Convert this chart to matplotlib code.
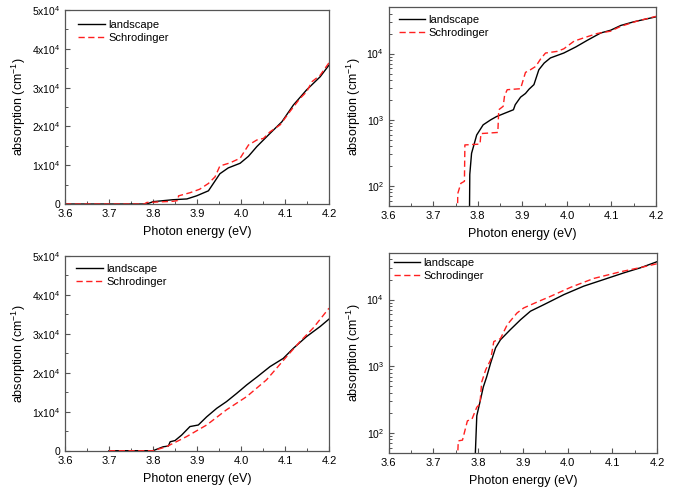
import matplotlib
matplotlib.use("Agg")
import matplotlib.pyplot as plt
from matplotlib.ticker import MultipleLocator, FuncFormatter, LogLocator, NullFormatter

plt.rcParams['font.family'] = ['Liberation Sans', 'DejaVu Sans']
plt.rcParams['mathtext.fontset'] = 'custom'
plt.rcParams['mathtext.rm'] = 'Liberation Sans'
plt.rcParams['mathtext.it'] = 'Liberation Sans:italic'
plt.rcParams['mathtext.bf'] = 'Liberation Sans:bold'
plt.rcParams['mathtext.default'] = 'regular'

# ---------------- data ----------------
labels = ["landscape", "Schrodinger"]
xlabel = "Photon energy (eV)"
ylabel = "absorption (cm$^{-1}$)"
x_ticks = [3.6, 3.7, 3.8, 3.9, 4.0, 4.1, 4.2]

# top-left (linear)
tl_land_x = [3.6, 3.786, 3.80, 3.845, 3.877, 3.899, 3.926, 3.952, 3.971, 3.998, 4.017,
             4.036, 4.066, 4.093, 4.119, 4.149, 4.18, 4.2]
tl_land_y = [0, 0, 600, 1100, 1300, 2100, 3400, 7800, 9300, 10500, 12300,
             14800, 18200, 21200, 25500, 29400, 32800, 35800]
tl_schr_x = [3.6, 3.78, 3.786, 3.846, 3.857, 3.858, 3.884, 3.906, 3.926, 3.941, 3.952,
             3.975, 3.998, 4.017, 4.036, 4.051, 4.066, 4.089, 4.111, 4.134, 4.149,
             4.161, 4.18, 4.2]
tl_schr_y = [0, 0, 400, 700, 900, 2100, 2900, 3800, 5300, 7000, 9800,
             10600, 11800, 15200, 16500, 16900, 18600, 20400, 23800, 27200, 28900,
             31500, 33200, 36400]

# top-right (log)
tr_land_x = [3.781, 3.782, 3.786, 3.7975, 3.812, 3.829, 3.842, 3.862, 3.88, 3.884,
             3.896, 3.907, 3.915, 3.926, 3.937, 3.949, 3.963, 3.993, 4.02, 4.046,
             4.076, 4.098, 4.121, 4.15, 4.2]
tr_land_y = [20, 150, 312, 590, 840, 1000, 1120, 1270, 1420, 1690,
             2200, 2500, 2900, 3400, 5700, 7200, 8600, 10200, 12600, 15900,
             20500, 22500, 26600, 30200, 35900]
tr_schr_x = [3.754, 3.755, 3.762, 3.770, 3.771, 3.805, 3.807, 3.845, 3.847, 3.857,
             3.860, 3.866, 3.896, 3.907, 3.918, 3.930, 3.941, 3.952, 3.978, 3.993,
             4.016, 4.038, 4.068, 4.098, 4.121, 4.158, 4.2]
tr_schr_y = [20, 77, 110, 118, 418, 430, 620, 645, 1420, 1600,
             2300, 2850, 2950, 5200, 5700, 6400, 8300, 10200, 10800, 11800,
             15400, 17300, 20100, 21800, 25800, 31000, 36500]

# bottom-left (linear)
bl_land_x = [3.7, 3.80, 3.823, 3.835, 3.839, 3.85, 3.865, 3.884, 3.903, 3.922, 3.945,
             3.967, 3.99, 4.013, 4.036, 4.066, 4.096, 4.119, 4.149, 4.18, 4.2]
bl_land_y = [0, 0, 1000, 1200, 2300, 2600, 4000, 6200, 6600, 8700, 10900,
             12600, 14700, 16900, 18900, 21600, 23700, 26300, 29300, 31900, 33800]
bl_schr_x = [3.7, 3.80, 3.83, 3.876, 3.922, 3.967, 4.013, 4.058, 4.104, 4.134, 4.164, 4.2]
bl_schr_y = [0, 0, 1000, 3600, 6600, 10500, 13900, 18200, 24200, 28000, 31500, 36600]

# bottom-right (log)
br_land_x = [3.7915, 3.797, 3.804, 3.8115, 3.819, 3.828, 3.839, 3.85, 3.872, 3.895,
             3.917, 3.947, 3.992, 4.036, 4.081, 4.126, 4.163, 4.2]
br_land_y = [20, 181, 289, 487, 690, 1120, 1890, 2500, 3540, 5000,
             6700, 8400, 11900, 15900, 20000, 25200, 30000, 37000]
br_schr_x = [3.752, 3.7556, 3.765, 3.776, 3.786, 3.797, 3.804, 3.808, 3.817, 3.828,
             3.835, 3.85, 3.865, 3.887, 3.902, 3.932, 3.962, 4.007, 4.059, 4.119,
             4.17, 4.2]
br_schr_y = [20, 76, 78, 152, 160, 243, 272, 580, 890, 1250,
             2350, 2600, 4200, 6300, 7500, 9200, 11200, 15300, 20800, 26200,
             31000, 34500]

# ---------------- figure ----------------
W, H = 688, 493
fig = plt.figure(figsize=(W / 100, H / 100), dpi=100)

def rect(l, t, r, b):
    return [l / W, (H - b) / H, (r - l) / W, (b - t) / H]

panels = [
    (rect(65, 10, 329, 204), False, (tl_land_x, tl_land_y), (tl_schr_x, tl_schr_y), (13, 10)),
    (rect(388.7, 7.3, 656, 206), True, (tr_land_x, tr_land_y), (tr_schr_x, tr_schr_y), (10, 8)),
    (rect(65, 256, 329, 450.7), False, (bl_land_x, bl_land_y), (bl_schr_x, bl_schr_y), (11, 8)),
    (rect(388.7, 253, 657, 453), True, (br_land_x, br_land_y), (br_schr_x, br_schr_y), (5, 5)),
]

spine_c = '#555555'

def lin_fmt(v, pos):
    if abs(v) < 1:
        return "0"
    return "%dx10$^{4}$" % round(v / 1e4)

for r, is_log, land, schr, leg_off in panels:
    ax = fig.add_axes(r)
    ax.plot(land[0], land[1], color='black', lw=1.0, label=labels[0])
    ax.plot(schr[0], schr[1], color='#ff2020', lw=1.0, dashes=(4.5, 2.5), label=labels[1])
    ax.set_xlim(3.6, 4.2)
    ax.set_xticks(x_ticks)
    ax.xaxis.set_major_formatter(FuncFormatter(lambda v, p: "%.1f" % v))
    ax.xaxis.set_minor_locator(MultipleLocator(0.05))
    if is_log:
        ax.set_yscale('log')
        ax.set_ylim(50, 5e4)
        ax.yaxis.set_major_locator(LogLocator(base=10, numticks=10))
        ax.yaxis.set_minor_locator(LogLocator(base=10, subs=range(2, 10), numticks=10))
        ax.yaxis.set_minor_formatter(NullFormatter())
    else:
        ax.set_ylim(0, 5e4)
        ax.yaxis.set_major_locator(MultipleLocator(1e4))
        ax.yaxis.set_minor_locator(MultipleLocator(5e3))
        ax.yaxis.set_major_formatter(FuncFormatter(lin_fmt))
    for s in ax.spines.values():
        s.set_color(spine_c)
        s.set_linewidth(0.9)
    ax.tick_params(which='both', direction='in', top=False, right=False,
                   color=spine_c, labelsize=8, labelcolor='black')
    ax.tick_params(axis='y', which='major', labelsize=7.5)
    ax.tick_params(which='major', length=3.5, width=0.8, pad=3.5)
    ax.tick_params(which='minor', length=2, width=0.7)
    ax.set_xlabel(xlabel, fontsize=9)
    ax.set_ylabel(ylabel, fontsize=9)
    wpx = r[2] * W
    hpx = r[3] * H
    ax.xaxis.set_label_coords(0.5, -22 / hpx)
    ax.yaxis.set_label_coords(-37 / wpx if not is_log else -26 / wpx, 0.5)
    leg = ax.legend(loc='upper left', frameon=False, fontsize=8,
                    bbox_to_anchor=(leg_off[0] / wpx, 1 - leg_off[1] / hpx),
                    borderaxespad=0, borderpad=0, handlelength=2.4,
                    handletextpad=0.3, labelspacing=0.25)

fig.savefig("out.png", dpi=100)
